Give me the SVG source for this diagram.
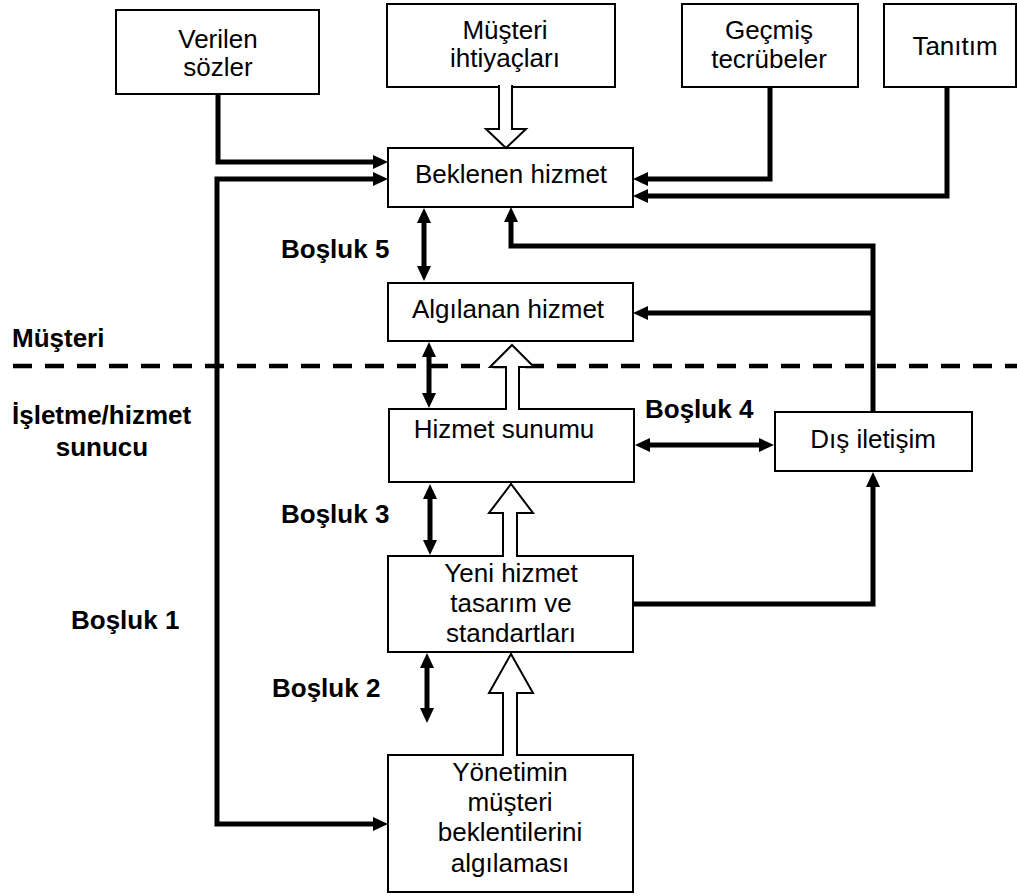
<svg xmlns="http://www.w3.org/2000/svg" width="1017" height="896" viewBox="0 0 1017 896">
<style>
  .box { fill: #fff; stroke: #000; stroke-width: 2; }
  .t { font-family: "Liberation Sans", Arial, sans-serif; font-size: 26px; fill: #000; text-anchor: middle; }
  .b { font-family: "Liberation Sans", Arial, sans-serif; font-size: 26px; font-weight: bold; fill: #000; }
  .ln { fill: none; stroke: #000; stroke-width: 5; stroke-linejoin: miter; }
  .one { marker-end: url(#ah); }
  .two { marker-start: url(#ah); marker-end: url(#ah); }
  .blk { fill: #fff; stroke: #000; stroke-width: 2; stroke-linejoin: miter; }
  .dash { stroke: #000; stroke-width: 4.5; stroke-dasharray: 19 13; fill: none; }
</style>
<defs>
  <marker id="ah" markerUnits="userSpaceOnUse" markerWidth="16" markerHeight="16" refX="5" refY="7" orient="auto-start-reverse">
    <path d="M0,0 L15,7 L0,14 Z" fill="#000"/>
  </marker>
</defs>
<rect width="1017" height="896" fill="#fff"/>

<line class="dash" x1="13" y1="366" x2="1017" y2="366"/>

<g id="connectors">
  <path class="ln one" d="M218,94 V162 H378"/>
  <path class="ln two" d="M378,179 H217 V824 H378"/>
  <path class="ln one" d="M770,87 V179 H643"/>
  <path class="ln one" d="M947,87 V196 H643"/>
  <path class="ln one" d="M873,412 V246 H511 V217"/>
  <path class="ln one" d="M873,313 H643"/>
  <path class="ln two" d="M424,218 V271"/>
  <path class="ln two" d="M429,352 V398"/>
  <path class="ln two" d="M645,445 H764"/>
  <path class="ln two" d="M430,494 V545"/>
  <path class="ln one" d="M633,604 H873 V482"/>
  <path class="ln two" d="M427,663 V713"/>
</g>

<g id="node-verilen">
  <rect class="box" x="116" y="10" width="203" height="84"/>
  <text class="t" x="218" y="48">Verilen</text>
  <text class="t" x="218" y="76">sözler</text>
</g>
<g id="node-musteri-ihtiyaclari">
  <rect class="box" x="387" y="4" width="228" height="83"/>
  <text class="t" x="505" y="39">Müşteri</text>
  <text class="t" x="505" y="67">ihtiyaçları</text>
</g>
<g id="node-gecmis">
  <rect class="box" x="682" y="4" width="176" height="83"/>
  <text class="t" x="769" y="39">Geçmiş</text>
  <text class="t" x="769" y="68">tecrübeler</text>
</g>
<g id="node-tanitim">
  <rect class="box" x="884" y="4" width="132" height="83"/>
  <text class="t" x="955" y="55">Tanıtım</text>
</g>
<g id="node-beklenen">
  <rect class="box" x="388" y="148" width="245" height="59"/>
  <text class="t" x="511" y="183">Beklenen hizmet</text>
</g>
<g id="node-algilanan">
  <rect class="box" x="388" y="283" width="245" height="58"/>
  <text class="t" x="508" y="318">Algılanan hizmet</text>
</g>
<g id="node-hizmet-sunumu">
  <rect class="box" x="389" y="409" width="245" height="73"/>
  <text class="t" x="504" y="438">Hizmet sunumu</text>
</g>
<g id="node-dis-iletisim">
  <rect class="box" x="775" y="412" width="197" height="59"/>
  <text class="t" x="873" y="448">Dış iletişim</text>
</g>
<g id="node-yeni-hizmet">
  <rect class="box" x="388" y="556" width="245" height="96"/>
  <text class="t" x="511" y="582">Yeni hizmet</text>
  <text class="t" x="511" y="612">tasarım ve</text>
  <text class="t" x="511" y="642">standartları</text>
</g>
<g id="node-yonetim">
  <rect class="box" x="388" y="755" width="245" height="137"/>
  <text class="t" x="510" y="781">Yönetimin</text>
  <text class="t" x="510" y="811">müşteri</text>
  <text class="t" x="510" y="841">beklentilerini</text>
  <text class="t" x="510" y="872">algılaması</text>
</g>

<g id="block-arrows">
  <path class="blk" d="M499,85 V129 H486 L506,148 L526,129 H512 V85"/>
  <path class="blk" d="M506,410 V367 H490 L512,345 L534,367 H519 V410"/>
  <path class="blk" d="M503,557 V513 H489 L511,484 L533,513 H517 V557"/>
  <path class="blk" d="M503,756 V693 H489 L511,654 L533,693 H517 V756"/>
</g>

<g id="labels">
  <text class="b" x="12" y="347">Müşteri</text>
  <text class="b" x="12" y="424">İşletme/hizmet</text>
  <text class="b" x="102" y="456" text-anchor="middle">sunucu</text>
  <text class="b" x="281" y="258">Boşluk 5</text>
  <text class="b" x="645" y="418">Boşluk 4</text>
  <text class="b" x="281" y="523">Boşluk 3</text>
  <text class="b" x="71" y="629">Boşluk 1</text>
  <text class="b" x="272" y="697">Boşluk 2</text>
</g>
</svg>
